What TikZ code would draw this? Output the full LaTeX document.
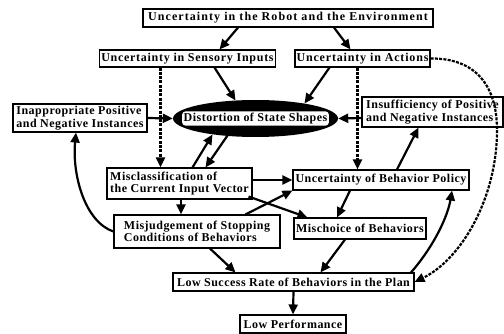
\documentclass[tikz,border=0pt]{standalone}
\usepackage{fontspec}
\setmainfont{Liberation Serif}[LetterSpace=4]
\usetikzlibrary{arrows.meta,shapes.geometric,calc}
\begin{document}
\begin{tikzpicture}[x=1pt,y=-1pt,
  txt/.style={font=\fontsize{12}{12.5}\selectfont\bfseries},
  box/.style={draw, line width=1.1pt, fill=white, inner sep=1.5pt, txt},
  arr/.style={line width=2.2pt, -{Triangle[length=10pt,width=9pt]}},
  darr/.style={arr, dash pattern=on 3pt off 1.3pt}]
\useasboundingbox (0,0) rectangle (504,334);
% nodes
\node[box, minimum width=290, minimum height=18] (n1) at (288,18) {\addfontfeature{LetterSpace=9}Uncertainty in the Robot and the Environment};
\node[box, minimum width=175, minimum height=17] (n2) at (187.5,58.5) {\addfontfeature{LetterSpace=6}Uncertainty in Sensory Inputs};
\node[box, minimum width=133, minimum height=17] (n3) at (362.5,58.5) {\addfontfeature{LetterSpace=7}Uncertainty in Actions};
\node[ellipse, fill=black, minimum width=165, minimum height=37, inner sep=0] (ell) at (255.5,118.5) {};
\node[fill=white, inner sep=1.5pt, rounded corners=3pt, txt] (ellt) at (ell.center) {Distortion of State Shapes};
\node[box, align=left, minimum width=134, minimum height=28] (n5) at (80,118) {Inappropriate Positive\\and Negative Instances};
\node[box, align=left, minimum width=141, minimum height=30] (n6) at (432.5,112) {Insufficiency of Positive\\and Negative Instances};
\node[box, align=left, minimum width=145, minimum height=31] (n7) at (179.5,183.5) {Misclassification of\\the Current Input Vector};
\node[box, align=left, minimum width=166, minimum height=33] (n8) at (197,231.5) {Misjudgement of Stopping\\Conditions of Behaviors};
\node[box, minimum width=176, minimum height=20] (n9) at (381,180) {Uncertainty of Behavior Policy};
\node[box, minimum width=132, minimum height=21] (n10) at (360,228.5) {Mischoice of Behaviors};
\node[box, minimum width=241, minimum height=18] (n11) at (293.5,282) {Low Success Rate of Behaviors in the Plan};
\node[box, minimum width=106, minimum height=18] (n12) at (293,324) {Low Performance};
% connectors
\draw[arr] ($(n1.south)+(-50,0)$) -- ($(n2.north)+(32,0)$);
\draw[arr] ($(n1.south)+(46,0)$) -- ($(n3.north)+(-12,0)$);
\draw[arr] ($(n2.south)+(27,0)$) -- ($(ell.center)+(-20,-18)$);
\draw[arr] ($(n3.south)+(-33,0)$) -- ($(ell.center)+(49,-15)$);
\draw[darr] ($(n2.south)+(-27,0)$) -- ($(n7.north)+(-19,0)$);
\draw[darr] ($(n3.south)+(-5,0)$) -- ($(n9.north)+(-23.5,0)$);
\draw[arr] (n5.east) -- (ell.west);
\draw[arr] ($(n6.west)+(0,6)$) -- (ell.east);
\draw[arr] ($(n7.north)+(13,0)$) -- ($(ell.center)+(-43,16)$);
\draw[arr] ($(ell.center)+(-28,17)$) -- ($(n7.north)+(26,0)$);
\draw[arr] ($(n7.south)+(1.5,0)$) -- ($(n8.north)+(-16,0)$);
\draw[arr] ($(n7.east)+(0,-3.5)$) -- (n9.west);
\draw[arr] ($(n7.south east)+(-4,-3)$) -- ($(n10.north west)+(14,0)$);
\draw[arr] ($(n8.north east)+(-35,0)$) -- (n9.south west);
\draw[arr] (n8.west) .. controls (85,222) and (72,175) .. ($(n5.south)+(-4,0)$);
\draw[arr] ($(n8.south)+(13,0)$) -- ($(n11.north)+(-58,0)$);
\draw[arr] ($(n9.south)+(-31,0)$) -- ($(n10.north)+(-23,0)$);
\draw[arr] ($(n9.north)+(16,0)$) -- ($(n6.south)+(-14,0)$);
\draw[arr] ($(n10.south)+(-15,0)$) -- ($(n11.north)+(27,0)$);
\draw[arr] ($(n11.east)+(-4,-9)$) .. controls (435,245) and (448,215) .. ($(n9.south)+(71,0)$);
\draw[darr] (n3.east) .. controls (475,58) and (497,85) .. (497,130) .. controls (497,200) and (460,260) .. (n11.east);
\draw[arr] (n11.south) -- (n12.north);
\end{tikzpicture}
\end{document}
